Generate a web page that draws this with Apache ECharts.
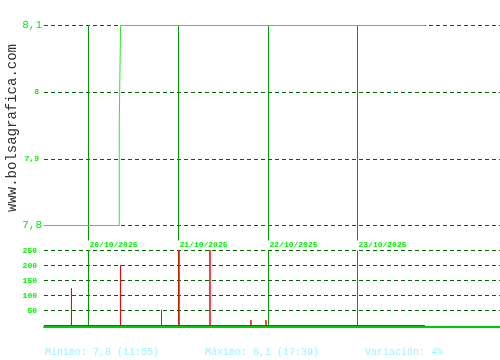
<!DOCTYPE html>
<html>
<head>
<meta charset="utf-8">
<script src="https://cdn.jsdelivr.net/npm/echarts@6/dist/echarts.min.js"></script>
<style>html,body{margin:0;padding:0;background:#fff;}#c{width:500px;height:360px;}</style>
</head>
<body>
<div id="c"></div>
<script>
// x positions are in trading days, 0 = start of 20/10/2025
const dayPositions = [0, 1, 2, 3];
const dayLabels = ['20/10/2025', '21/10/2025', '22/10/2025', '23/10/2025'];
// price (step line)
const priceTimes = [-0.49, 0.348, 0.363, 3.754];
const priceValues = [7.8, 7.95, 8.1, 8.1];
// volume spikes
const volTimes = [-0.184, 0.362, 0.819, 1.014, 1.359, 1.816, 1.983];
const volValues = [124, 200, 52, 400, 300, 18, 18];
const volStart = -0.49, volEnd = 3.754;
// axis ranges / ticks
const xRange = [-0.49, 4.59];
const priceTicks = [7.8, 7.9, 8.0, 8.1];
const volTicks = [0, 50, 100, 150, 200, 250];
// summary texts
const minText = 'Mínimo: 7,8 (11:55)';
const maxText = 'Máximo: 8,1 (17:39)';
const varText = 'Variación: 4%';
const watermark = 'www.bolsagrafica.com';

const MONO = '"Liberation Mono", "DejaVu Sans Mono", monospace';
const priceData = priceTimes.map((t, i) => [t, priceValues[i]]);
const volData = [[volStart, 0]];
volTimes.forEach((t, i) => { volData.push([t, 0], [t, volValues[i]], [t, 0]); });
volData.push([volEnd, 0]);

const pMin = priceTicks[0], pMax = priceTicks[priceTicks.length - 1];

const chart = echarts.init(document.getElementById('c'), null, {renderer: 'canvas'});
chart.setOption({
  animation: false,
  backgroundColor: '#ffffff',
  grid: [
    {left: 44, right: 0, top: 25.5, height: 200},
    {left: 44, right: 0, top: 250.5, height: 75}
  ],
  xAxis: [
    {gridIndex: 0, type: 'value', min: xRange[0], max: xRange[1], show: false},
    {gridIndex: 1, type: 'value', min: xRange[0], max: xRange[1],
     axisLine: {show: true, onZero: false, lineStyle: {color: '#00cc00', width: 2}},
     offset: 1.5,
     axisTick: {show: false}, axisLabel: {show: false}, splitLine: {show: false}}
  ],
  yAxis: [
    {gridIndex: 0, type: 'value', min: pMin, max: pMax, interval: 0.1,
     axisLine: {show: true, lineStyle: {color: '#00dd00', width: 1}},
     axisTick: {show: false},
     axisLabel: {
       margin: 2,
       formatter: function (v) {
         const s = String(Math.round(v * 10) / 10).replace('.', ',');
         const big = Math.abs(v - pMin) < 1e-6 || Math.abs(v - pMax) < 1e-6;
         return big ? '{b|' + s + '}' : '{s|' + s + '}';
       },
       rich: {
         b: {fontFamily: MONO, fontSize: 11, color: '#00ee00'},
         s: {fontFamily: MONO, fontSize: 8, fontWeight: 'bold', color: '#00ee00', padding: [0, 3, 0, 0]}
       }
     },
     splitLine: {show: true, lineStyle: {color: '#006600', type: [4, 3], width: 1}}
    },
    {gridIndex: 1, type: 'value', min: volTicks[0], max: volTicks[volTicks.length - 1], interval: 50,
     axisLine: {show: true, lineStyle: {color: '#00dd00', width: 1}},
     axisTick: {show: false},
     axisLabel: {margin: 7, fontFamily: MONO, fontSize: 8, fontWeight: 'bold', color: '#00ee00',
       formatter: v => v === 0 ? '' : String(v)},
     splitLine: {show: true, showMinLine: false, lineStyle: {color: '#006600', type: [4, 3], width: 1}}
    }
  ],
  series: [
    {
      type: 'custom', xAxisIndex: 0, yAxisIndex: 0, z: 1,
      data: dayPositions.map(d => [d, pMax]),
      renderItem: function (params, api) {
        const x = Math.round(api.coord([api.value(0), pMax])[0]) + 0.5;
        const cs = params.coordSys;
        return {type: 'group', children: [
          {type: 'line', shape: {x1: x, y1: cs.y, x2: x, y2: cs.y + cs.height + 15},
           style: {stroke: '#009900', lineWidth: 1}},
          {type: 'text', x: x + 1, y: cs.y + cs.height + 19,
           style: {text: dayLabels[params.dataIndex], fill: '#00ee00',
                   font: 'bold 8px ' + MONO, verticalAlign: 'middle', align: 'left'}}
        ]};
      }
    },
    {
      type: 'custom', xAxisIndex: 1, yAxisIndex: 1, z: 1,
      data: dayPositions.map(d => [d, 0]),
      renderItem: function (params, api) {
        const x = Math.round(api.coord([api.value(0), 0])[0]) + 0.5;
        const cs = params.coordSys;
        return {type: 'line', shape: {x1: x, y1: cs.y, x2: x, y2: cs.y + cs.height + 1},
                style: {stroke: '#009900', lineWidth: 1}};
      }
    },
    {
      type: 'line', xAxisIndex: 0, yAxisIndex: 0, step: 'end', symbol: 'none', z: 3,
      data: priceData, lineStyle: {color: '#22ee22', width: 1}
    },
    {
      type: 'line', xAxisIndex: 1, yAxisIndex: 1, symbol: 'none', z: 3, clip: true,
      data: volData, lineStyle: {color: '#ff0000', width: 1}
    }
  ],
  graphic: [
    {type: 'text', x: 12, y: 128, rotation: Math.PI / 2,
     style: {text: watermark, font: '14px ' + MONO, fill: '#333333', align: 'center', verticalAlign: 'middle'}},
    {type: 'text', x: 45, y: 352, style: {text: minText, font: '10px ' + MONO, fill: '#a0f0ff', verticalAlign: 'middle'}},
    {type: 'text', x: 205, y: 352, style: {text: maxText, font: '10px ' + MONO, fill: '#a0f0ff', verticalAlign: 'middle'}},
    {type: 'text', x: 365, y: 352, style: {text: varText, font: '10px ' + MONO, fill: '#a0f0ff', verticalAlign: 'middle'}}
  ]
});
</script>
</body>
</html>
